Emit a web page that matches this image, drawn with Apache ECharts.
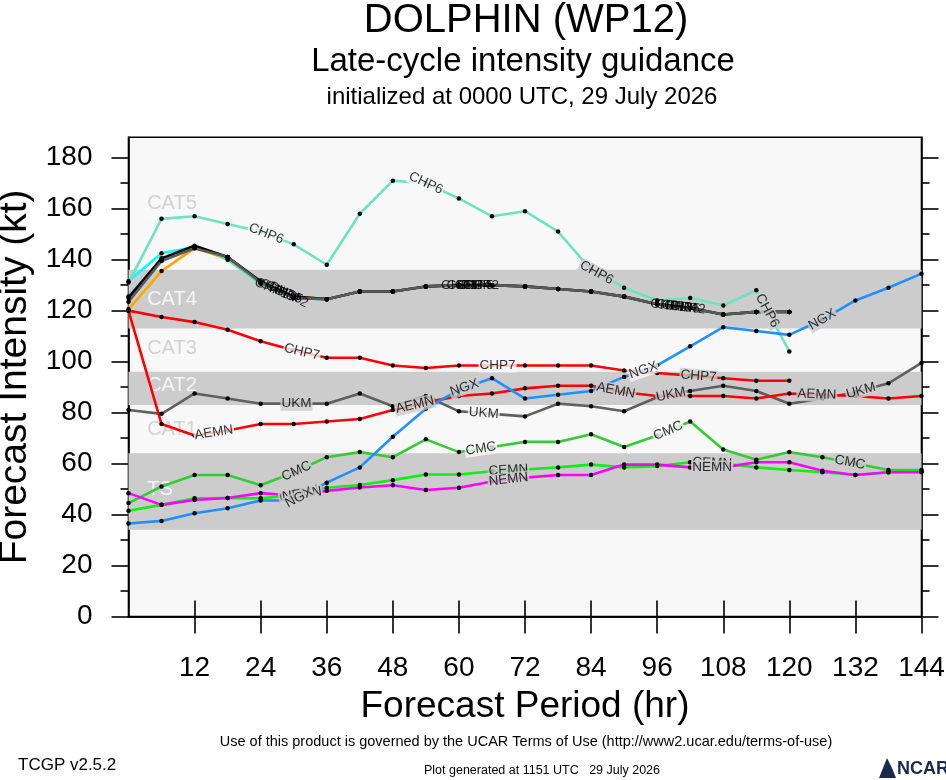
<!DOCTYPE html>
<html><head><meta charset="utf-8">
<script src="https://cdn.jsdelivr.net/npm/echarts@6/dist/echarts.min.js"></script>
<style>html,body{margin:0;padding:0;background:#fff}#c{width:946px;height:780px}</style>
</head><body><div id="c"></div>
<script>
// ---------------- data ----------------
const hours = [0,6,12,18,24,30,36,42,48,54,60,66,72,78,84,90,96,102,108,114,120,126,132,138,144];
const xTicks = [12,24,36,48,60,72,84,96,108,120,132,144];
const yMajor = [0,20,40,60,80,100,120,140,160,180];
const yMinor = [10,30,50,70,90,110,130,150,170];

const CHP1 = [131.5,142.5,145,140,130.5,125,124.5,127.5,127.5,129.5,130,130,129.5,128.5,127.5,125.5,122.5,121,118.5,119.5,119.5];
const CHP3 = [125.5,140,145,141,131,125,124.5,127.5,127.5,129.5,130,130,129.5,128.5,127.5,125.5,122.5,121,118.5,119.5,119.5];
const CHP4 = [120.5,135.5,144.5,140.5,131,125.5,124.5,127.5,127.5,129.5,130,130,129.5,128.5,127.5,125.5,122.5,121,118.5,119.5,119.5];
const CHP5 = [125,140.5,145.5,141,131.5,125.5,124.5,127.5,127.5,129.5,130,130,129.5,128.5,127.5,125.5,122.5,121,118.5,119.5,119.5];
const CHP2 = [123.5,139.5,144.5,141,131,125,124.5,127.5,127.5,129.5,130,130,129.5,128.5,127.5,125.5,122.5,121,118.5,119.5,119.5];
const CHP6 = [131,156,157,154,151,146,138,158,171,170,164,157,159,151,136,129,124,125,122,128,104];
const CHP7 = [120,117.5,115.5,112.5,108,104.5,101.5,101.5,98.5,97.5,98.5,98.5,98.5,98.5,98.5,96.5,95.5,94.5,93.5,92.5,92.5];
const AEMN = [120,75.5,71,73,75.5,75.5,76.5,77.5,81,84,86.5,87.5,89.5,90.5,90.5,88,86.5,86.5,86.5,85.5,87.5,87,86.5,85.5,86.5];
const UKM  = [81,79.5,87.5,85.5,83.5,83.5,83.5,87.5,82.5,86.5,80.5,79.5,78.5,83.5,82.5,80.5,86,88.5,90.5,88.5,83.5,85.5,88,91.5,99.5];
const NGX  = [36.5,37.5,40.5,42.5,45.5,45.5,52.5,58.5,70.5,81.5,89,93.5,85.5,87,88.5,94,98.5,106,113.5,112,110.5,116.5,124,129,134.5];
const CMC  = [44.5,51,55.5,55.5,51.5,56.5,62.5,64.5,62.5,69.5,64.5,66.5,68.5,68.5,71.5,66.5,71,76.5,65.5,61.5,64.5,62.5,60,57.5,57.5];
const CEMN = [41.5,43.8,46.4,46.5,46.4,47.5,50.5,51.6,53.5,55.7,55.7,57,57.7,58.5,59.6,58.5,59,60.5,60,58.5,57.5,56.6,55.5,56.6,57];
const NEMN = [48.4,43.8,45.7,46.5,48.4,47.5,49.3,50.6,51.5,49.6,50.5,53,54.5,55.5,55.5,59.6,59.6,58.5,58.5,60.5,60.5,57.2,55.5,56.6,56.6];

// label positions along each track (forecast hour)
const lblCHP1 = [26, 60, 98];
const lblCHP3 = [27, 61, 99];
const lblCHP4 = [28, 62.5, 100];
const lblCHP5 = [28.5, 63, 100.5];
const lblCHP2 = [29.5, 64, 101.5];
const lblCHP6 = [25, 54, 85, 116];
const lblCHP7 = [31.5, 67, 103.5];
const lblAEMN = [15.5, 52, 88.5, 125];
const lblUKM  = [30.5, 64.5, 98.5, 133];
const lblNGX  = [31, 61, 93.5, 126];
const lblCMC  = [30.5, 64, 98, 131];
const lblCEMN = [31, 69, 106];
const lblNEMN = [31.5, 69, 106];

const catNames = ['CAT5','CAT4','CAT3','CAT2','CAT1','TS'];
const catY     = [162, 124.5, 105, 90.5, 73.5, 50];
const catX     = 3.3;
const bands    = [[34,64],[83,96],[113,136]];

// ---------------- chart ----------------
const FONT = 'Liberation Sans, Arial, Helvetica, sans-serif';
const BG = '#f8f8f8', BAND = '#cccccc';
const chart = echarts.init(document.getElementById('c'));

const models = [
  {name:'CHP1', data:CHP1, color:'#00ffff', labels:lblCHP1, knock:false},
  {name:'CHP3', data:CHP3, color:'#1e90ff', labels:lblCHP3, knock:false},
  {name:'CHP4', data:CHP4, color:'#ffa500', labels:lblCHP4, knock:false},
  {name:'CHP5', data:CHP5, color:'#000000', labels:lblCHP5, knock:false},
  {name:'CHP2', data:CHP2, color:'#5a5a5a', labels:lblCHP2, knock:false},
  {name:'CHP6', data:CHP6, color:'#6de3c1', labels:lblCHP6, knock:true},
  {name:'UKM',  data:UKM,  color:'#5f5f5f', labels:lblUKM,  knock:true},
  {name:'CHP7', data:CHP7, color:'#ff0000', labels:lblCHP7, knock:true},
  {name:'AEMN', data:AEMN, color:'#ff0000', labels:lblAEMN, knock:true},
  {name:'CMC',  data:CMC,  color:'#33cc33', labels:lblCMC,  knock:true},
  {name:'CEMN', data:CEMN, color:'#11ee11', labels:lblCEMN, knock:true},
  {name:'NEMN', data:NEMN, color:'#ff00ff', labels:lblNEMN, knock:true},
  {name:'NGX',  data:NGX,  color:'#1e90ff', labels:lblNGX,  knock:true}
];

function pairs(arr){ return arr.map((v,i)=>[hours[i], v]); }
function inBand(v){ return bands.some(b => v >= b[0] && v <= b[1]); }

const yBase = {type:'value', min:0, max:188, splitLine:{show:false}, gridIndex:0};
const tickStyle = {color:'#000', width:1.6};

const option = {
  animation:false,
  backgroundColor:'#ffffff',
  grid:{left:128.5, right:24.5, top:137.3, bottom:163.5, show:true, backgroundColor:BG, borderColor:'#000', borderWidth:1.6,
        containLabel:false, outerBoundsMode:'none'},
  xAxis:[
    {type:'value', min:0, max:144, interval:12, position:'bottom',
     axisLine:{show:true, lineStyle:{color:'#000', width:1.6}},
     axisTick:{show:true, inside:false, length:17, customValues:xTicks, lineStyle:tickStyle},
     axisLabel:{customValues:xTicks, fontSize:28, color:'#000', fontFamily:FONT, margin:38},
     splitLine:{show:false},
     name:'Forecast Period (hr)', nameLocation:'middle', nameGap:72,
     nameTextStyle:{fontSize:37, color:'#000', fontFamily:FONT}},
    {type:'value', min:0, max:144, interval:12, position:'top',
     axisLine:{show:true, lineStyle:{color:'#000', width:1.6}},
     axisTick:{show:true, inside:false, length:16, customValues:xTicks.slice(0,-1), lineStyle:tickStyle},
     axisLabel:{show:false}, splitLine:{show:false}}
  ],
  yAxis:[
    Object.assign({}, yBase, {position:'left',
      axisLine:{show:true, lineStyle:{color:'#000', width:1.6}},
      axisTick:{show:true, inside:false, length:17, customValues:yMajor, lineStyle:tickStyle},
      axisLabel:{customValues:yMajor, fontSize:28, color:'#000', fontFamily:FONT, margin:36},
      name:'Forecast Intensity (kt)', nameLocation:'middle', nameGap:80,
      nameTextStyle:{fontSize:39, color:'#000', fontFamily:FONT}}),
    Object.assign({}, yBase, {position:'left',
      axisLine:{show:false},
      axisTick:{show:true, inside:false, length:8, customValues:yMinor, lineStyle:tickStyle},
      axisLabel:{show:false}}),
    Object.assign({}, yBase, {position:'right',
      axisLine:{show:true, lineStyle:{color:'#000', width:1.6}},
      axisTick:{show:true, inside:false, length:17, customValues:yMajor, lineStyle:tickStyle},
      axisLabel:{show:false}}),
    Object.assign({}, yBase, {position:'right',
      axisLine:{show:false},
      axisTick:{show:true, inside:false, length:8, customValues:yMinor, lineStyle:tickStyle},
      axisLabel:{show:false}})
  ],
  graphic:[
    {type:'text', x:526, y:21, style:{text:'DOLPHIN (WP12)', font:'40px '+FONT, fill:'#000', textAlign:'center', textVerticalAlign:'middle'}},
    {type:'text', x:523, y:62, style:{text:'Late-cycle intensity guidance', font:'33px '+FONT, fill:'#000', textAlign:'center', textVerticalAlign:'middle'}},
    {type:'text', x:522, y:97, style:{text:'initialized at 0000 UTC, 29 July 2026', font:'24px '+FONT, fill:'#000', textAlign:'center', textVerticalAlign:'middle'}},
    {type:'text', x:526, y:742, style:{text:'Use of this product is governed by the UCAR Terms of Use (http://www2.ucar.edu/terms-of-use)', font:'14.5px '+FONT, fill:'#000', textAlign:'center', textVerticalAlign:'middle'}},
    {type:'text', x:18, y:765, style:{text:'TCGP v2.5.2', font:'17px '+FONT, fill:'#000', textAlign:'left', textVerticalAlign:'middle'}},
    {type:'text', x:542, y:771, style:{text:'Plot generated at 1151 UTC   29 July 2026', font:'12.5px '+FONT, fill:'#000', textAlign:'center', textVerticalAlign:'middle'}},
    {type:'polygon', shape:{points:[[879,778],[887,758],[892,768],[896,778]]}, style:{fill:'#1a2a4a'}},
    {type:'text', x:897, y:769, style:{text:'NCAR', font:'bold 18px '+FONT, fill:'#1a2a4a', textAlign:'left', textVerticalAlign:'middle'}}
  ],
  series:[]
};

// bands
option.series.push({
  type:'line', name:'bands', data:[], z:1, silent:true,
  markArea:{silent:true, itemStyle:{color:BAND}, data: bands.map(b => [{yAxis:b[0]},{yAxis:b[1]}])}
});
// category labels
option.series.push({
  type:'scatter', name:'cats', z:1, silent:true, symbolSize:1, itemStyle:{color:'rgba(0,0,0,0)'},
  data: catNames.map((n,i)=>({value:[catX, catY[i]], label:{show:true, position:'right', distance:0, formatter:n,
      color: inBand(catY[i]) ? '#ffffff' : '#c8c8c8', fontSize:20, fontFamily:FONT}}))
});
// model tracks
models.forEach(m => {
  option.series.push({
    type:'line', name:m.name, data:pairs(m.data), z:2, silent:true,
    symbol:'circle', symbolSize:4.5, showAllSymbol:true,
    lineStyle:{color:m.color, width:2.6}, itemStyle:{color:'#000'},
    emphasis:{disabled:true}
  });
});
chart.setOption(option);

// track labels, rotated along the segment they sit on
function segIndex(h){ let i = 0; while (i < hours.length - 2 && hours[i+1] <= h) i++; return i; }
const labelItems = [];
models.forEach(m => {
  m.labels.forEach(h => {
    const i = Math.min(segIndex(h), m.data.length - 2);
    const t = (h - hours[i]) / (hours[i+1] - hours[i]);
    const v = m.data[i] + t * (m.data[i+1] - m.data[i]);
    const p0 = chart.convertToPixel({gridIndex:0}, [hours[i], m.data[i]]);
    const p1 = chart.convertToPixel({gridIndex:0}, [hours[i+1], m.data[i+1]]);
    const ang = -Math.atan2(p1[1]-p0[1], p1[0]-p0[0]) * 180 / Math.PI;
    labelItems.push({value:[h, v], label:{show:true, position:'inside', formatter:m.name, rotate:ang,
      color:'#000', fontSize:13.5, fontFamily:FONT,
      backgroundColor: m.knock ? (inBand(v) ? BAND : BG) : 'transparent', padding:[0,1]}});
  });
});
option.series.push({
  type:'scatter', name:'labels', z:5, silent:true, symbolSize:1, itemStyle:{color:'rgba(0,0,0,0)'},
  data: labelItems
});
chart.setOption(option);
</script>
</body></html>
